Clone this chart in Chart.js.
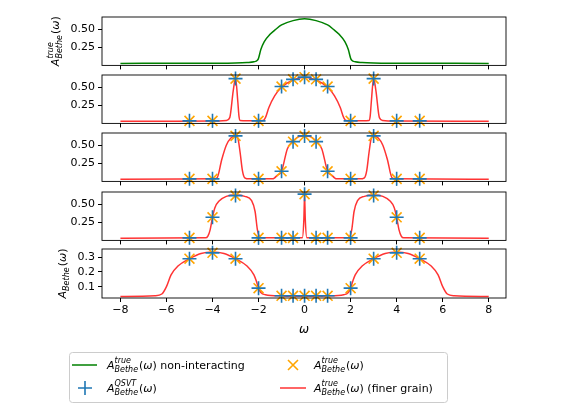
<!DOCTYPE html>
<html><head><meta charset="utf-8">
<script src="https://cdn.jsdelivr.net/npm/chart.js@4"></script>
<style>
body{margin:0;background:#fff;width:561px;height:411px;position:relative;overflow:hidden}
canvas{position:absolute;left:0}
</style></head><body>
<div id="wrap"></div>
<script>
// marker positions (omega) shared by panels 2-5
const markerX = [-5, -4, -3, -2, -1, -0.5, 0, 0.5, 1, 2, 3, 4, 5];

// panel 1: non-interacting
const greenX = [-8, -4, -3, -2.5, -2.2, -2.05, -2, -1.9, -1.75, -1.5, -1.25, -1, -0.5, 0, 0.5, 1, 1.25, 1.5, 1.75, 1.9, 2, 2.05, 2.2, 2.5, 3, 4, 8];
const greenY = [0.028, 0.03, 0.033, 0.04, 0.05, 0.07, 0.1, 0.22, 0.33, 0.43, 0.5, 0.56, 0.62, 0.645, 0.62, 0.56, 0.5, 0.43, 0.33, 0.22, 0.1, 0.07, 0.05, 0.04, 0.033, 0.03, 0.028];

// panel 2
const red2X = [-8, -4, -3.4, -3.25, -3.1, -3, -2.9, -2.85, -2.8, -2.5, -1.8, -1.7, -1.55, -1.3, -1, -0.5, 0, 0.5, 1, 1.3, 1.55, 1.7, 1.8, 2.5, 2.8, 2.85, 2.9, 3, 3.1, 3.25, 3.4, 4, 8];
const red2Y = [0.03, 0.032, 0.04, 0.08, 0.45, 0.63, 0.3, 0.1, 0.04, 0.035, 0.04, 0.08, 0.22, 0.38, 0.5, 0.6, 0.64, 0.6, 0.5, 0.38, 0.22, 0.08, 0.04, 0.035, 0.04, 0.1, 0.3, 0.63, 0.45, 0.08, 0.04, 0.032, 0.03];
const qsvt2 = [0.035, 0.035, 0.62, 0.035, 0.51, 0.61, 0.64, 0.61, 0.51, 0.035, 0.62, 0.035, 0.035];
const true2 = [0.035, 0.035, 0.62, 0.035, 0.51, 0.61, 0.64, 0.61, 0.51, 0.035, 0.62, 0.035, 0.035];

// panel 3
const red3X = [-8, -4, -3.8, -3.6, -3.4, -3.2, -3, -2.9, -2.8, -2.7, -2.6, -2.4, -1.4, -1.3, -1.2, -1, -0.75, -0.5, -0.25, 0, 0.25, 0.5, 0.75, 1, 1.2, 1.3, 1.4, 2.4, 2.6, 2.7, 2.8, 2.9, 3, 3.2, 3.4, 3.6, 3.8, 4, 8];
const red3Y = [0.03, 0.035, 0.05, 0.3, 0.5, 0.6, 0.63, 0.6, 0.4, 0.15, 0.05, 0.035, 0.035, 0.05, 0.08, 0.14, 0.45, 0.56, 0.62, 0.63, 0.62, 0.56, 0.45, 0.14, 0.08, 0.05, 0.035, 0.035, 0.05, 0.15, 0.4, 0.6, 0.63, 0.6, 0.5, 0.3, 0.05, 0.035, 0.03];
const qsvt3 = [0.035, 0.035, 0.63, 0.035, 0.14, 0.55, 0.63, 0.55, 0.14, 0.035, 0.63, 0.035, 0.035];
const true3 = [0.035, 0.035, 0.63, 0.035, 0.14, 0.55, 0.63, 0.55, 0.14, 0.035, 0.63, 0.035, 0.035];

// panel 4
const red4X = [-8, -4.3, -4.2, -4.1, -4, -3.9, -3.7, -3.4, -3, -2.6, -2.3, -2.15, -2.05, -1.95, -1.8, -0.1, -0.03, 0, 0.03, 0.1, 1.8, 1.95, 2.05, 2.15, 2.3, 2.6, 3, 3.4, 3.7, 3.9, 4, 4.1, 4.2, 4.3, 8];
const red4Y = [0.03, 0.035, 0.06, 0.15, 0.32, 0.45, 0.55, 0.61, 0.63, 0.61, 0.55, 0.4, 0.15, 0.05, 0.035, 0.035, 0.3, 0.64, 0.3, 0.035, 0.035, 0.05, 0.15, 0.4, 0.55, 0.61, 0.63, 0.61, 0.55, 0.45, 0.32, 0.15, 0.06, 0.035, 0.03];
const qsvt4 = [0.035, 0.32, 0.62, 0.035, 0.035, 0.035, 0.64, 0.035, 0.035, 0.035, 0.62, 0.32, 0.035];
const true4 = [0.035, 0.32, 0.62, 0.035, 0.035, 0.035, 0.64, 0.035, 0.035, 0.035, 0.62, 0.32, 0.035];

// panel 5
const red5X = [-8, -6.5, -6.2, -6, -5.8, -5.5, -5, -4.5, -4, -3.5, -3, -2.5, -2.2, -2.1, -2, -1.9, -1.7, -1, 0, 1, 1.7, 1.9, 2, 2.1, 2.2, 2.5, 3, 3.5, 4, 4.5, 5, 5.5, 5.8, 6, 6.2, 6.5, 8];
const red5Y = [0.033, 0.038, 0.05, 0.1, 0.18, 0.24, 0.29, 0.325, 0.335, 0.325, 0.29, 0.24, 0.18, 0.14, 0.09, 0.06, 0.045, 0.037, 0.035, 0.037, 0.045, 0.06, 0.09, 0.14, 0.18, 0.24, 0.29, 0.325, 0.335, 0.325, 0.29, 0.24, 0.18, 0.1, 0.05, 0.038, 0.033];
const qsvt5 = [0.29, 0.33, 0.29, 0.09, 0.038, 0.038, 0.038, 0.038, 0.038, 0.09, 0.29, 0.33, 0.29];
const true5 = [0.29, 0.33, 0.29, 0.09, 0.038, 0.038, 0.038, 0.038, 0.038, 0.09, 0.29, 0.33, 0.29];

const xTicks = [-8, -6, -4, -2, 0, 2, 4, 6, 8];
const yTicksA = [0.25, 0.5];
const yTicksB = [0.1, 0.2, 0.3];

const RED = 'rgba(255,0,0,0.8)', BLUE = '#1f77b4', ORANGE = '#ffa500';
const FONT = '"DejaVu Sans"';

function pts(xs, ys) { return xs.map((x, i) => ({x: x, y: ys[i]})); }

// draws A^{sup}_{sub}(ω) + tail, starting at x, baseline y; returns width
function drawA(ctx, x, y, sup, sub, tail, measureOnly) {
  ctx.font = 'italic 11px ' + FONT;
  const wa = ctx.measureText('A').width;
  ctx.font = 'italic 8px ' + FONT;
  const ws = Math.max(ctx.measureText(sup).width, ctx.measureText(sub).width);
  ctx.font = '11px ' + FONT;
  const wt = ctx.measureText('(').width;
  ctx.font = 'italic 11px ' + FONT;
  const wo = ctx.measureText('ω').width;
  ctx.font = '11px ' + FONT;
  const wr = ctx.measureText(')' + tail).width;
  const w = wa + ws + 1 + wt + wo + wr;
  if (measureOnly) return w;
  ctx.fillStyle = '#000';
  ctx.textBaseline = 'alphabetic';
  ctx.textAlign = 'left';
  ctx.font = 'italic 11px ' + FONT;
  ctx.fillText('A', x, y);
  ctx.font = 'italic 8px ' + FONT;
  if (sup) ctx.fillText(sup, x + wa, y - 6);
  if (sub) ctx.fillText(sub, x + wa, y + 3);
  let cx = x + wa + ws + 1;
  ctx.font = '11px ' + FONT;
  ctx.fillText('(', cx, y); cx += wt;
  ctx.font = 'italic 11px ' + FONT;
  ctx.fillText('ω', cx, y); cx += wo;
  ctx.font = '11px ' + FONT;
  ctx.fillText(')' + tail, cx, y);
  return w;
}

function makePanel(cfg) {
  const canvas = document.createElement('canvas');
  canvas.style.top = cfg.top + 'px';
  canvas.style.width = '561px';
  canvas.style.height = cfg.height + 'px';
  canvas.width = 561; canvas.height = cfg.height;
  document.getElementById('wrap').appendChild(canvas);

  const datasets = [];
  if (cfg.green) datasets.push({data: pts(greenX, greenY), showLine: true, borderColor: 'green', borderWidth: 1.5, pointRadius: 0, cubicInterpolationMode: 'monotone'});
  if (cfg.redX) {
    datasets.push({data: pts(markerX, cfg.qsvt), showLine: false, pointStyle: 'cross', pointRadius: 7, borderColor: BLUE, borderWidth: 1.6, clip: false});
    datasets.push({data: pts(markerX, cfg.tru), showLine: false, pointStyle: 'crossRot', pointRadius: 7, borderColor: ORANGE, borderWidth: 1.6, clip: false});
    datasets.push({data: pts(cfg.redX, cfg.redY), showLine: true, borderColor: RED, borderWidth: 1.5, pointRadius: 0, cubicInterpolationMode: 'monotone'});
  }

  new Chart(canvas.getContext('2d'), {
    type: 'scatter',
    data: {datasets: datasets},
    options: {
      responsive: false, animation: false,
      layout: {padding: {top: cfg.padTop, right: 55, left: 0, bottom: 0}},
      plugins: {legend: {display: false}, tooltip: {enabled: false}},
      scales: {
        x: {
          min: -8.8, max: 8.75,
          afterBuildTicks: s => { s.ticks = xTicks.map(v => ({value: v})); },
          afterFit: s => { s.height = cfg.xh; },
          border: {display: false},
          grid: {drawOnChartArea: false, drawTicks: true, tickLength: 4, color: '#000', tickColor: '#000'},
          ticks: {display: cfg.labels, color: '#000', font: {family: FONT, size: 11}, padding: 2,
                  callback: v => v < 0 ? '\u2212' + Math.abs(v) : String(v)}
        },
        y: {
          min: cfg.ymin, max: cfg.ymax,
          afterBuildTicks: s => { s.ticks = cfg.yTicks.map(v => ({value: v})); },
          afterFit: s => { s.width = 102; },
          border: {display: false},
          grid: {drawOnChartArea: false, drawTicks: true, tickLength: 4, color: '#000', tickColor: '#000'},
          ticks: {color: '#000', font: {family: FONT, size: 11}, padding: 3,
                  callback: v => cfg.yTicks === yTicksB ? v.toFixed(1) : v.toFixed(2)}
        }
      }
    },
    plugins: [{
      id: 'frame',
      afterDraw(chart) {
        const ctx = chart.ctx, a = chart.chartArea;
        ctx.save();
        ctx.strokeStyle = '#000'; ctx.lineWidth = 0.9;
        ctx.strokeRect(a.left, a.top, a.right - a.left, a.bottom - a.top);
        if (cfg.ylabel) {
          ctx.translate(cfg.ylabelX, (a.top + a.bottom) / 2);
          ctx.rotate(-Math.PI / 2);
          const w = drawA(ctx, 0, 0, cfg.ylabel[0], cfg.ylabel[1], '', true);
          drawA(ctx, -w / 2, 4, cfg.ylabel[0], cfg.ylabel[1], '');
        }
        ctx.restore();
        if (cfg.legend) {
          ctx.save();
          ctx.fillStyle = '#000';
          ctx.font = 'italic 12px ' + FONT;
          ctx.textAlign = 'center'; ctx.textBaseline = 'middle';
          ctx.fillText('ω', (a.left + a.right) / 2, 330 - cfg.top);
          const oy = -cfg.top;
          ctx.strokeStyle = '#ccc'; ctx.lineWidth = 1;
          ctx.beginPath();
          ctx.roundRect(69.5, 352.5 + oy, 378, 50, 3);
          ctx.fillStyle = '#fff'; ctx.fill(); ctx.stroke();
          ctx.lineWidth = 1.5;
          ctx.strokeStyle = 'green';
          ctx.beginPath(); ctx.moveTo(72, 365 + oy); ctx.lineTo(97, 365 + oy); ctx.stroke();
          drawA(ctx, 107, 369 + oy, 'true', 'Bethe', ' non-interacting');
          ctx.strokeStyle = BLUE; ctx.lineWidth = 1.6;
          ctx.beginPath(); ctx.moveTo(78, 388 + oy); ctx.lineTo(92, 388 + oy); ctx.moveTo(85, 381 + oy); ctx.lineTo(85, 395 + oy); ctx.stroke();
          drawA(ctx, 107, 392 + oy, 'QSVT', 'Bethe', '');
          ctx.strokeStyle = ORANGE;
          ctx.beginPath(); ctx.moveTo(288, 360 + oy); ctx.lineTo(298, 370 + oy); ctx.moveTo(298, 360 + oy); ctx.lineTo(288, 370 + oy); ctx.stroke();
          drawA(ctx, 314, 369 + oy, 'true', 'Bethe', '');
          ctx.strokeStyle = RED; ctx.lineWidth = 1.5;
          ctx.beginPath(); ctx.moveTo(280, 388 + oy); ctx.lineTo(306, 388 + oy); ctx.stroke();
          drawA(ctx, 314, 392 + oy, 'true', 'Bethe', ' (finer grain)');
          ctx.restore();
        }
      }
    }]
  });
}

makePanel({top: 7, height: 68, padTop: 10, xh: 6, labels: false, green: true, ymin: 0, ymax: 0.67, yTicks: yTicksA, ylabel: ['true', 'Bethe'], ylabelX: 55});
makePanel({top: 65, height: 68, padTop: 10, xh: 6, labels: false, redX: red2X, redY: red2Y, qsvt: qsvt2, tru: true2, ymin: 0, ymax: 0.67, yTicks: yTicksA});
makePanel({top: 123, height: 68, padTop: 10, xh: 6, labels: false, redX: red3X, redY: red3Y, qsvt: qsvt3, tru: true3, ymin: 0, ymax: 0.67, yTicks: yTicksA});
makePanel({top: 182, height: 68, padTop: 10, xh: 6, labels: false, redX: red4X, redY: red4Y, qsvt: qsvt4, tru: true4, ymin: 0, ymax: 0.67, yTicks: yTicksA});
makePanel({top: 239, height: 172, padTop: 10, xh: 113, labels: true, redX: red5X, redY: red5Y, qsvt: qsvt5, tru: true5, ymin: 0.023, ymax: 0.356, yTicks: yTicksB, ylabel: ['', 'Bethe'], ylabelX: 62, legend: true});
</script>
</body></html>
